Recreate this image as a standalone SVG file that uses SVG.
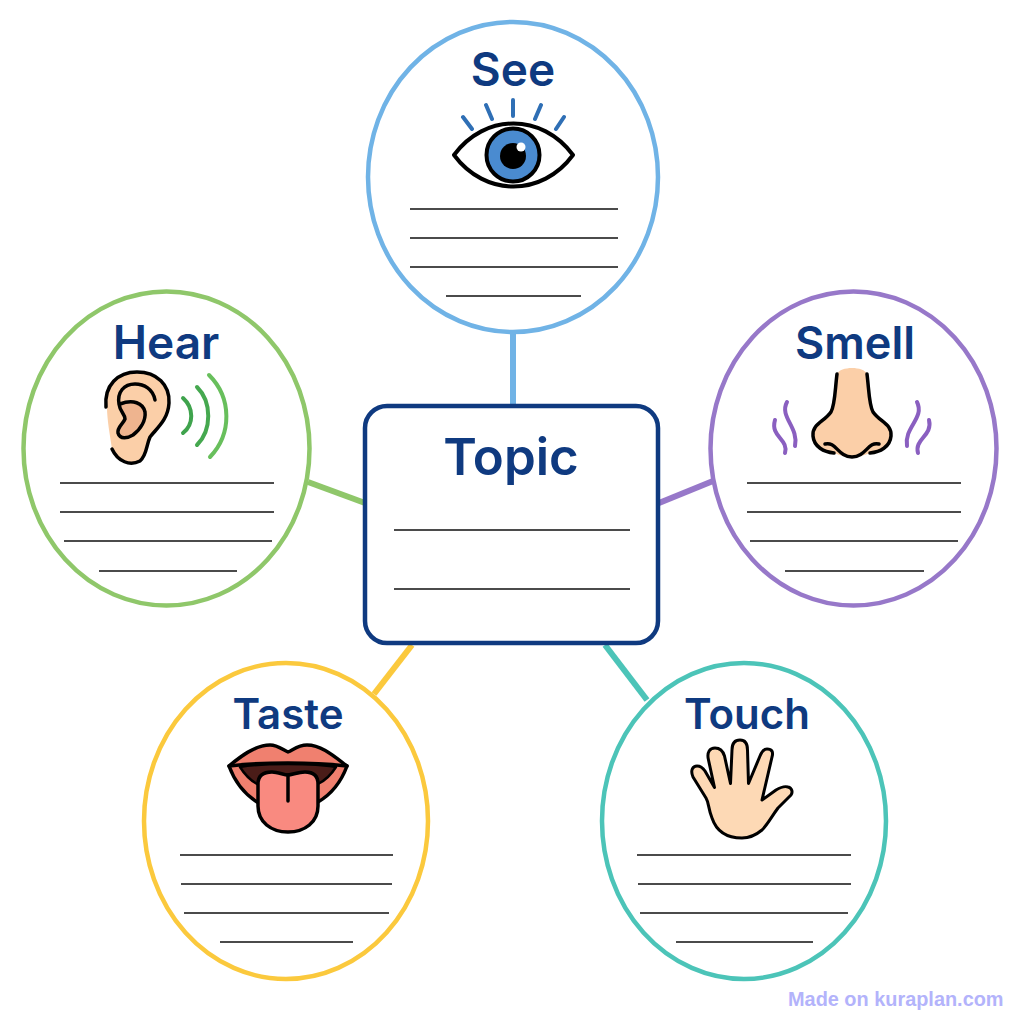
<svg xmlns="http://www.w3.org/2000/svg" width="1024" height="1024" viewBox="0 0 1024 1024">
<style>
.t{font-family:"Inter","Noto Sans",sans-serif;font-weight:600;fill:#0f3a80;text-anchor:middle;font-size:46px}
.b{fill:#fff;stroke-width:4.500}
.l{stroke:#111;stroke-width:1.500;fill:none}
.c{stroke-width:6;fill:none}
.k{stroke:#000;stroke-width:3.500;stroke-linejoin:round;stroke-linecap:round}
.n{fill:none}
.skin{fill:#fbcfa8}
.s{fill:none;stroke-linecap:round}
</style>
<rect width="1024" height="1024" fill="#fff"/>
<g id="connectors">
<line class="c" x1="513" y1="332" x2="513" y2="406" stroke="#70b3e6"/>
<line class="c" x1="308" y1="482" x2="365" y2="503" stroke="#8fc76a"/>
<line class="c" x1="659" y1="503" x2="713" y2="481" stroke="#9778c9"/>
<line class="c" x1="374" y1="694" x2="412" y2="645" stroke="#fbc93d"/>
<line class="c" x1="605" y1="645" x2="647" y2="700" stroke="#4cc4b8"/>
</g>
<g id="see">
<ellipse class="b" cx="513" cy="177" rx="145" ry="155" stroke="#70b3e6"/>
<text class="t" x="513" y="86">See</text>
<path class="s" stroke="#2f6fb5" stroke-width="4" d="M463 117L472 129M486 105L492 119M513 100V116M541 105L535 119M564 117L556 129"/>
<path d="M454 155C485 113 542 113 573 155C542 197 485 197 454 155Z" fill="#fff" stroke="#000" stroke-width="4" stroke-linejoin="round"/>
<circle cx="513" cy="155" r="26.500" fill="#4a8bd0" stroke="#000" stroke-width="4"/>
<circle cx="513" cy="156" r="13" fill="#000"/>
<circle cx="521" cy="147" r="4.500" fill="#fff"/>
<path class="l" d="M410 209H618M410 238H618M410 267H618M446 296H581"/>
</g>
<g id="hear">
<ellipse class="b" cx="166.500" cy="448.500" rx="143" ry="157" stroke="#8fc76a"/>
<text class="t" x="166" y="359">Hear</text>
<path class="skin" d="M107 407C104 385 118 372 137 372C157 372 170 385 169 403C168 420 157 428 150 437C146 446 147 455 140 461C130 466 118 462 112 449C110 435 107 420 107 407Z"/>
<path d="M121 403C128 400 139 401 143 409C146 419 137 430 130 436C124 439 118 437 119 431C120 426 127 421 126 416C123 412 120 408 121 403Z" fill="#eeb48f"/>
<path class="k n" d="M106 407C104 385 118 372 137 372C157 372 170 385 169 403C168 420 157 428 150 437C146 446 147 455 140 461C130 466 118 462 112 449"/>
<path class="k n" d="M155 400C153 389 144 384 135 384C124 384 117 392 119 404C120 412 125 414 125 419C123 424 117 427 118 433C120 440 128 438 133 435C141 429 146 420 145 412C143 403 133 399 120 404"/>
<g class="s" stroke-width="4">
<path stroke="#3fa34d" d="M183 398C194 408 194 424 183 433"/>
<path stroke="#45a84f" d="M197 387C212 402 212 430 197 445"/>
<path stroke="#68bf5c" d="M209 375C232 398 232 434 210 457"/>
</g>
<path class="l" d="M60 483H274M60 512H274M64 541H272M99 571H237"/>
</g>
<g id="smell">
<ellipse class="b" cx="853.500" cy="448.500" rx="143" ry="157" stroke="#9778c9"/>
<text class="t" x="855" y="359" style="font-size:45px">Smell</text>
<path class="skin" d="M837 374C840 366 864 366 867 374C870 390 869 405 873 412C880 422 892 424 891 436C890 447 880 452 870 453C862 456 858 457 852 457C846 457 842 456 834 453C824 452 814 447 813 436C812 424 824 422 831 412C835 405 834 390 837 374Z"/>
<path class="k n" d="M837 374C835 390 835 405 831 412C824 422 812 424 813 436C814 447 824 452 834 453"/>
<path class="k n" d="M867 374C869 390 869 405 873 412C880 422 892 424 891 436C890 447 880 452 870 453"/>
<path class="k n" d="M825 444C836 441 838 457 852 457C866 457 868 441 879 444"/>
<g class="s" stroke="#8a5fc0" stroke-width="4">
<path d="M787 402C779 417 799 427 795 446"/>
<path d="M775 420C770 437 789 439 785 453"/>
<path d="M917 402C925 418 904 427 907 446"/>
<path d="M929 420C933 436 914 439 918 453"/>
</g>
<path class="l" d="M747 483H961M747 512H961M750 541H958M785 571H924"/>
</g>
<g id="topic">
<rect x="365" y="406" width="293" height="237" rx="22" fill="#fff" stroke="#0f3a80" stroke-width="4.500"/>
<text class="t" x="511" y="475" style="font-size:51px">Topic</text>
<path class="l" d="M394 530H630M394 589H630"/>
</g>
<g id="taste">
<ellipse class="b" cx="286" cy="821" rx="142" ry="158" stroke="#fbc93d"/>
<text class="t" x="288" y="729" style="font-size:42px">Taste</text>
<path class="k" fill="#f0806f" d="M229 766C240 757 255 745 270 745C278 745 283 750 288 752C293 750 298 745 307 745C322 745 335 757 347 766C340 785 330 795 318 802H257C246 795 236 785 229 766Z"/>
<path class="k n" d="M229 766C262 762 314 762 347 766"/>
<path fill="#4a1c18" stroke="#000" stroke-width="2.500" stroke-linejoin="round" d="M240 767C262 763 314 763 336 767C331 775 326 780 318 784L257 784C250 780 245 775 240 767Z"/>
<path class="k" fill="#f98a80" d="M258 784C258 775 264 772 272 772C278 772 284 775 288 775C292 775 298 772 305 772C313 772 318 775 318 784V806C318 822 305 832 288 832C271 832 258 822 258 806Z"/>
<path class="k n" d="M288 775V801"/>
<path class="l" d="M180 855H393M181 884H392M184 913H389M220 942H353"/>
</g>
<g id="touch">
<ellipse class="b" cx="744" cy="821" rx="142" ry="158" stroke="#4cc4b8"/>
<text class="t" x="747" y="729" style="font-size:42px">Touch</text>
<path d="M742 838C725 838 716 830 712 818C708 808 709 803 706 798L693 777C690 770 693 766 697 766C700 766 703 768 705 771L714.500 787.500L708.500 760C706.500 752 710 748 715 748C720 748 723 751 724.500 756L730.500 783.500L732 750C732 743 735 740 740 740C745 740 747.500 743 747.500 750L748.500 783.500L760 756C762 751 764 749 767 749C772 749 773.500 752 772 757L762 800L776 790C781 787 785 786 788 787C792 788 793 792 791 795L778 808C772 816 768 824 762 830C756 835 750 838 742 838Z" fill="#fdd9b5" stroke="#000" stroke-width="3" stroke-linejoin="round"/>
<path class="l" d="M637 855H851M638 884H851M640 913H848M676 942H813"/>
</g>
<text x="788" y="1006" font-family="Liberation Sans, sans-serif" font-weight="700" font-size="19.900" fill="#b3b3fb">Made on kuraplan.com</text>
</svg>
